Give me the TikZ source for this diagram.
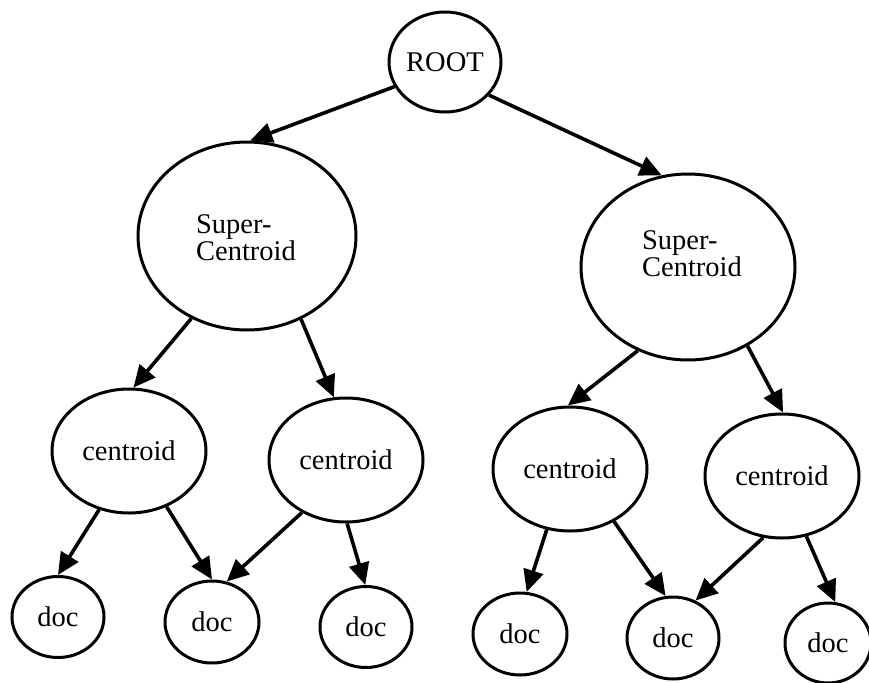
\documentclass[tikz,border=0pt]{standalone}
\usepackage{fontspec}
\setmainfont{Liberation Serif}
\usetikzlibrary{shapes.geometric,arrows.meta}

\tikzset{
  bubble/.style={ellipse, draw, line width=3pt, inner sep=0pt,
    font=\fontsize{28.5}{24}\selectfont},
  rootnode/.style={bubble, minimum width=112pt, minimum height=100pt},
  supernode/.style={bubble, minimum width=218pt, minimum height=188pt},
  cnode/.style={bubble, minimum width=154pt, minimum height=124pt},
  docnode/.style={bubble, minimum width=92pt, minimum height=81pt},
  caption/.style={inner sep=0pt, align=left, font=\fontsize{28.5}{24}\selectfont},
  edge/.style={line width=3.6pt, -{Triangle[length=22pt,width=20pt]}}
}

\begin{document}
\begin{tikzpicture}[x=1pt, y=-1pt]
  \useasboundingbox (0,0) rectangle (869,682);

  % root and the two super-centroids
  \node[rootnode] (root) at (445,62) {ROOT};
  \node[supernode] (sc1) at (247,236) {};
  \node[caption] (sc1t) at (246,238) {Super-\\Centroid};
  \node[supernode, minimum width=214pt, minimum height=186pt] (sc2) at (688,267) {};
  \node[caption] (sc2t) at (692,254) {Super-\\Centroid};

  % centroids
  \node[cnode] (c1) at (129,451) {centroid};
  \node[cnode] (c2) at (346,460) {centroid};
  \node[cnode] (c3) at (570,469) {centroid};
  \node[cnode] (c4) at (782,476) {centroid};

  % documents
  \node[docnode] (d1) at (58,617) {doc};
  \node[docnode, minimum width=94pt, minimum height=82pt] (d2) at (212,622) {doc};
  \node[docnode] (d3) at (366,627) {doc};
  \node[docnode, minimum width=94pt, minimum height=82pt] (d4) at (520,634) {doc};
  \node[docnode, minimum height=82pt] (d5) at (673,638) {doc};
  \node[docnode, minimum width=86pt, minimum height=80pt] (d6) at (828,643) {doc};

  % tree edges
  \draw[edge] (root.-154) -- (sc1.88);
  \draw[edge] (root.-37)  -- (sc2.106);

  \draw[edge] (sc1.-124) -- (c1.86);
  \draw[edge] (sc1.-57)  -- (c2.101);
  \draw[edge] (sc2.-121) -- (c3.92);
  \draw[edge] (sc2.-53)  -- (c4.89);

  \draw[edge] (c1.-117) -- (d1.90);
  \draw[edge] (c1.-56)  -- (d2.90);
  \draw[edge] (c2.-130) -- (d2.70);
  \draw[edge] (c2.-89)  -- (d3.91);
  \draw[edge] (c3.-111) -- (d4.81);
  \draw[edge] (c3.-50)  -- (d5.100);
  \draw[edge] (c4.-107) -- (d5.59);
  \draw[edge] (c4.-68)  -- (d6.80);
\end{tikzpicture}
\end{document}
